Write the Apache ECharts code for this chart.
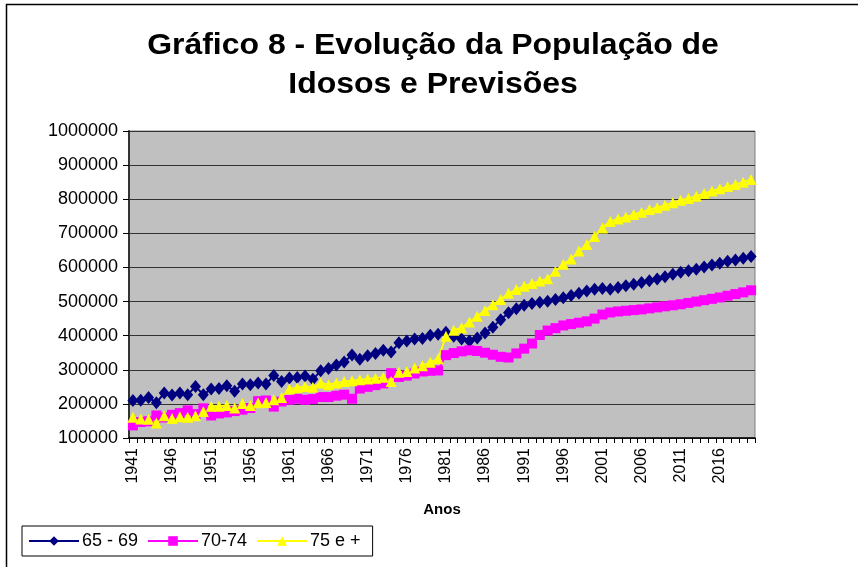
<!DOCTYPE html>
<html>
<head>
<meta charset="utf-8">
<script src="https://cdn.jsdelivr.net/npm/echarts@6/dist/echarts.min.js"></script>
<style>
  html, body { margin: 0; padding: 0; background: #fff; }
  #chart { width: 858px; height: 567px; }
</style>
</head>
<body>
<div id="chart"></div>
<script>
// anos 1941 - 2020
var anos = [];
for (var a = 1941; a <= 2020; a++) anos.push(String(a));

// 65 - 69
var idade6569 = [
  210000, 211000, 219000, 203000, 232000, 226000, 232000, 227000, 251000, 227000,
  244000, 245000, 253000, 237000, 258000, 256000, 261000, 258000, 283000, 266000,
  276000, 277000, 282000, 272000, 297000, 304000, 314000, 323000, 343000, 331000,
  341000, 348000, 357000, 352000, 379000, 384000, 390000, 392000, 401000, 404000,
  410000, 398000, 390000, 384000, 393000, 408000, 425000, 447000, 467000, 479000,
  489000, 494000, 498000, 501000, 506000, 511000, 518000, 524000, 531000, 536000,
  538000, 536000, 541000, 546000, 551000, 556000, 561000, 566000, 573000, 580000,
  586000, 590000, 595000, 601000, 607000, 612000, 618000, 622000, 627000, 632000
];

// 70-74
var idade7074 = [
  137000, 147000, 149000, 166000, 160000, 168000, 173000, 181000, 170000, 187000,
  166000, 172000, 175000, 179000, 183000, 188000, 208000, 210000, 192000, 207000,
  212000, 215000, 212000, 214000, 220000, 220000, 224000, 227000, 215000, 245000,
  250000, 255000, 260000, 290000, 279000, 283000, 289000, 295000, 297000, 298000,
  343000, 349000, 354000, 357000, 355000, 350000, 344000, 338000, 336000, 348000,
  362000, 377000, 402000, 415000, 422000, 430000, 434000, 438000, 442000, 450000,
  462000, 468000, 471000, 473000, 475000, 477000, 480000, 483000, 486000, 489000,
  492000, 496000, 500000, 504000, 508000, 512000, 517000, 522000, 527000, 533000
];

// 75 e +
var idade75 = [
  161000, 156000, 155000, 144000, 165000, 157000, 162000, 161000, 165000, 178000,
  193000, 193000, 195000, 188000, 201000, 195000, 203000, 204000, 212000, 219000,
  244000, 247000, 251000, 249000, 261000, 256000, 261000, 266000, 268000, 271000,
  273000, 275000, 278000, 266000, 293000, 295000, 305000, 312000, 322000, 332000,
  398000, 416000, 423000, 440000, 457000, 474000, 491000, 506000, 524000, 535000,
  545000, 553000, 560000, 567000, 589000, 609000, 625000, 648000, 667000, 691000,
  716000, 735000, 742000, 748000, 755000, 762000, 770000, 775000, 782000, 790000,
  797000, 802000, 809000, 817000, 824000, 831000, 837000, 843000, 850000, 858000
];

var titulo = ['Gráfico 8 - Evolução da População de', 'Idosos e Previsões'];

var fonte = 'Liberation Sans, Arial, sans-serif';

var chart = echarts.init(document.getElementById('chart'), null, { renderer: 'canvas' });

function serie(nome, dados, cor, simbolo, tam) {
  return {
    name: nome,
    type: 'line',
    data: dados,
    symbol: simbolo,
    symbolSize: tam,
    showAllSymbol: true,
    animation: false,
    lineStyle: { color: cor, width: 2 },
    itemStyle: { color: cor, borderWidth: 0 }
  };
}

// titulo em duas linhas, um pouco esticado como no original
function linhaTitulo(txt, y) {
  return {
    type: 'text',
    x: 433, y: y,
    scaleX: 1.065,
    silent: true,
    style: {
      text: txt, fill: '#000',
      font: 'bold 30px ' + fonte,
      textAlign: 'center', textVerticalAlign: 'middle'
    }
  };
}

chart.setOption({
  backgroundColor: '#fff',
  animation: false,
  graphic: [
    {
      type: 'rect',
      shape: { x: 6.5, y: 4.5, width: 1000, height: 1000 },
      style: { fill: 'none', stroke: '#000', lineWidth: 1.5 },
      silent: true
    },
    linhaTitulo(titulo[0], 46),
    linhaTitulo(titulo[1], 85)
  ],
  legend: {
    left: 22,
    top: 526,
    padding: [6, 12, 6, 6],
    itemGap: 9,
    itemWidth: 50,
    itemHeight: 12,
    borderColor: '#000',
    borderWidth: 1,
    textStyle: { fontFamily: fonte, fontSize: 18, color: '#000', padding: [0, 0, 0, -2] },
    data: ['65 - 69', '70-74', '75 e +']
  },
  grid: { left: 129, right: 103, top: 131, bottom: 129, show: true, backgroundColor: '#C0C0C0', borderColor: '#808080', borderWidth: 1 },
  xAxis: {
    type: 'category',
    data: anos,
    boundaryGap: true,
    name: 'Anos',
    nameLocation: 'middle',
    nameGap: 64,
    nameTextStyle: { fontFamily: fonte, fontSize: 15, fontWeight: 'bold', color: '#000' },
    axisLine: { lineStyle: { color: '#000', width: 1.5 } },
    axisTick: { show: true, interval: 0, length: 5, lineStyle: { color: '#000' } },
    axisLabel: { interval: 4, rotate: 90, fontFamily: fonte, fontSize: 16, color: '#000', margin: 10 },
    splitLine: { show: false }
  },
  yAxis: {
    type: 'value',
    min: 100000,
    max: 1000000,
    interval: 100000,
    axisLine: { show: true, lineStyle: { color: '#333', width: 2 } },
    axisTick: { show: true, length: 6, lineStyle: { color: '#000' } },
    axisLabel: {
      fontFamily: fonte, fontSize: 18, color: '#000', margin: 11,
      formatter: function (v) { return String(v); }
    },
    splitLine: { show: true, lineStyle: { color: '#333', width: 1 } }
  },
  series: [
    serie('65 - 69', idade6569, '#000080', 'diamond', [11, 13]),
    serie('70-74', idade7074, '#FF00FF', 'rect', 10),
    serie('75 e +', idade75, '#FFFF00', 'triangle', 11)
  ]
});
</script>
</body>
</html>
